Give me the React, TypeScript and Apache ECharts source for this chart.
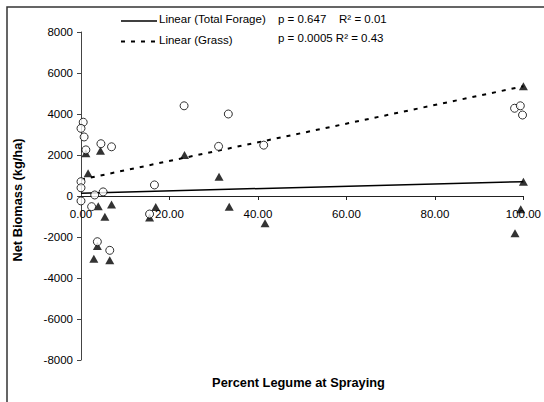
import React, { useEffect, useRef } from "react";
import * as echarts from "echarts";

// Open circles: grass net biomass vs. percent legume at spraying
const grassPoints: [number, number][] = [
  [0.5, 3600], [0, 3300], [0.7, 2880], [1.1, 2250], [4.5, 2550], [6.9, 2400],
  [23.3, 4400], [33.3, 4000], [31.1, 2420], [41.3, 2480], [16.6, 540],
  [0, 700], [0, 400], [3.1, 50], [5, 200], [0, -240], [2.4, -520],
  [3.7, -2230], [6.5, -2650], [15.5, -880], [98, 4280], [99.3, 4400], [99.8, 3950],
];

// Filled triangles: total forage net biomass
const forageTriangles: [number, number][] = [
  [1.6, 1110], [1.1, 2080], [4.4, 2210], [23.4, 2000], [31.2, 940],
  [33.5, -520], [41.6, -1330], [16.9, -540], [15.5, -1050], [3.9, -500],
  [6.9, -420], [5.4, -1010], [2.9, -3060], [6.5, -3140], [3.7, -2440],
  [100, 5350], [100, 700], [99.4, -650], [98.1, -1820],
];

// Linear trend lines (end points)
const trendTotalForage: [number, number][] = [[0, 140], [100, 700]];
const trendGrass: [number, number][] = [[0, 800], [100, 5350]];

const legendLabels = ["Linear (Total Forage)", "Linear (Grass)"];
const statLabels = ["p = 0.647    R² = 0.01", "p = 0.0005 R² = 0.43"];

const xTitle = "Percent Legume at Spraying";
const yTitle = "Net Biomass (kg/ha)";

const FONT = '"Liberation Sans", Arial, sans-serif';

const GRID_TOP = 32;
const GRID_BOTTOM = 42;
const CHART_H = 402;
const Y_MIN = -8000;
const Y_MAX = 8000;

export default function App() {
  const ref = useRef<HTMLDivElement>(null);

  useEffect(() => {
    if (!ref.current) return;
    const chart = echarts.init(ref.current, null, { renderer: "svg" });
    // The x axis crosses at y = 0: shift it up from the bottom of the grid
    const plotH = CHART_H - GRID_TOP - GRID_BOTTOM;
    const zeroShift = -plotH * (0 - Y_MIN) / (Y_MAX - Y_MIN);
    chart.setOption({
      animation: false,
      backgroundColor: "#ffffff",
      textStyle: { fontFamily: FONT },
      grid: { left: 81, right: 18, top: GRID_TOP, bottom: GRID_BOTTOM, containLabel: false },
      xAxis: {
        type: "value",
        min: 0,
        max: 100,
        interval: 20,
        position: "bottom",
        offset: zeroShift,
        axisLine: { onZero: false, lineStyle: { color: "#222", width: 1 } },
        axisTick: { show: true, length: 4, lineStyle: { color: "#222" } },
        axisLabel: {
          margin: 12,
          color: "#000",
          fontSize: 11.5,
          fontFamily: FONT,
          formatter: (v: number) => v.toFixed(2),
        },
        splitLine: { show: false },
      },
      yAxis: {
        type: "value",
        min: Y_MIN,
        max: Y_MAX,
        interval: 2000,
        axisLine: { show: true, onZero: false, lineStyle: { color: "#444", width: 1 } },
        axisTick: { show: true, length: 4, lineStyle: { color: "#444" } },
        axisLabel: {
          margin: 8,
          color: "#000",
          fontSize: 11.5,
          fontFamily: FONT,
          formatter: (v: number) => String(v),
        },
        splitLine: { show: false },
      },
      series: [
        {
          name: legendLabels[0],
          type: "line",
          data: trendTotalForage,
          showSymbol: false,
          z: 1,
          lineStyle: { color: "#000", width: 1.5, type: "solid" },
        },
        {
          name: legendLabels[1],
          type: "line",
          data: trendGrass,
          showSymbol: false,
          z: 1,
          lineStyle: { color: "#000", width: 2, type: [4, 6] },
        },
        {
          name: "Total Forage",
          type: "scatter",
          data: forageTriangles,
          symbol: "triangle",
          symbolSize: [9, 8],
          z: 2,
          itemStyle: { color: "#000" },
        },
        {
          name: "Grass",
          type: "scatter",
          data: grassPoints,
          symbol: "circle",
          symbolSize: 8,
          z: 3,
          itemStyle: { color: "#fff", borderColor: "#000", borderWidth: 1 },
        },
      ],
      graphic: [
        {
          type: "rect",
          silent: true,
          shape: { x: 7, y: 7, width: 600, height: 460 },
          style: { fill: "none", stroke: "#333", lineWidth: 1.5 },
        },
        {
          type: "line",
          shape: { x1: 121, y1: 21, x2: 157, y2: 21 },
          style: { stroke: "#000", lineWidth: 1.5 },
        },
        {
          type: "line",
          shape: { x1: 121, y1: 41.5, x2: 157, y2: 41.5 },
          style: { stroke: "#000", lineWidth: 2, lineDash: [4, 6] },
        },
        {
          type: "text",
          x: 159,
          y: 19,
          style: {
            text: legendLabels[0],
            font: `11.5px ${FONT}`,
            fill: "#000",
            textVerticalAlign: "middle",
          },
        },
        {
          type: "text",
          x: 159,
          y: 39.5,
          style: {
            text: legendLabels[1],
            font: `11.5px ${FONT}`,
            fill: "#000",
            textVerticalAlign: "middle",
          },
        },
        {
          type: "text",
          x: 278,
          y: 19,
          style: {
            text: statLabels[0],
            font: `11.5px ${FONT}`,
            fill: "#000",
            textVerticalAlign: "middle",
          },
        },
        {
          type: "text",
          x: 278,
          y: 38,
          style: {
            text: statLabels[1],
            font: `11.5px ${FONT}`,
            fill: "#000",
            textVerticalAlign: "middle",
          },
        },
        {
          type: "text",
          x: 298.5,
          y: 382.5,
          style: {
            text: xTitle,
            font: `bold 12.8px ${FONT}`,
            fill: "#000",
            textAlign: "center",
            textVerticalAlign: "middle",
          },
        },
        {
          type: "text",
          x: 17,
          y: 200,
          rotation: Math.PI / 2,
          style: {
            text: yTitle,
            font: `bold 12.8px ${FONT}`,
            fill: "#000",
            textAlign: "center",
            textVerticalAlign: "middle",
          },
        },
      ],
    });
    return () => chart.dispose();
  }, []);

  return (
    <div
      ref={ref}
      style={{ position: "absolute", left: 0, top: 0, width: 544, height: 402, background: "#fff" }}
    />
  );
}
